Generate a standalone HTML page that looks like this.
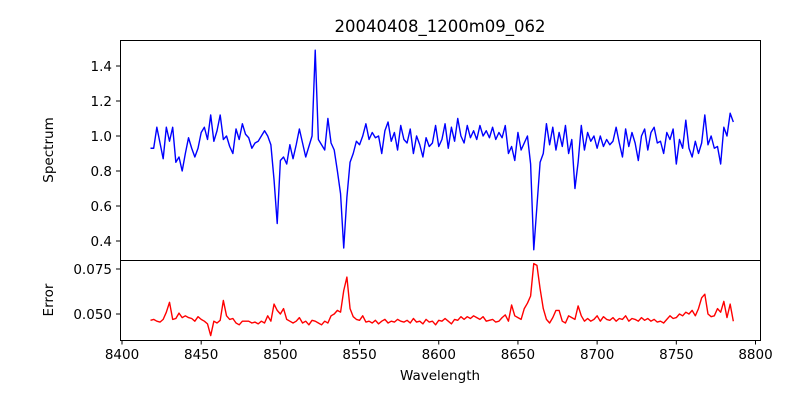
<!DOCTYPE html>
<html><head><meta charset="utf-8"><style>
html,body{margin:0;padding:0;background:#fff;}
svg{display:block;font-family:"DejaVu Sans","Liberation Sans",sans-serif;}
</style></head><body>
<svg id="chart" width="800" height="400" viewBox="0 0 800 400">
<rect width="800" height="400" fill="#fff"/>
<text x="440" y="32" font-size="16.5" text-anchor="middle">20040408_1200m09_062</text>
<text transform="translate(53,150) rotate(-90)" font-size="13.5" text-anchor="middle">Spectrum</text>
<text transform="translate(53,300) rotate(-90)" font-size="13.5" text-anchor="middle">Error</text>
<text x="440" y="380" font-size="13.5" text-anchor="middle">Wavelength</text>
<g id="g"></g>
</svg>
<script>
const wlStart = 8418;
const wlStep = 2;
const spectrum = [0.93,0.93,1.05,0.96,0.87,1.05,0.97,1.05,0.85,0.88,0.80,0.90,
0.99,0.93,0.88,0.93,1.02,1.05,0.98,1.12,0.97,1.03,1.12,0.98,1.00,0.94,0.90,1.04,0.98,1.07,1.01,0.99,0.93,0.96,0.97,1.00,1.03,1.00,0.95,
0.75,0.50,0.86,0.88,0.84,0.95,0.87,0.95,1.04,0.96,0.88,0.94,1.00,1.49,0.98,0.95,0.92,1.10,0.96,0.92,0.80,0.67,0.36,0.65,0.85,0.90,0.97,0.95,1.00,
1.07,0.98,1.02,0.99,1.00,0.90,1.03,1.08,0.97,1.02,0.92,1.06,0.98,0.96,1.04,0.90,1.00,0.95,0.88,0.99,0.94,0.96,1.06,0.94,0.98,1.07,0.93,1.05,0.97,1.10,1.00,0.96,1.06,0.99,1.03,0.98,1.06,1.00,1.03,0.99,1.05,0.98,1.02,0.99,1.06,0.90,0.94,0.86,1.02,0.92,0.96,1.00,0.84,0.35,0.60,0.85,0.90,1.07,0.95,1.05,0.92,1.02,0.94,1.06,0.90,0.98,0.70,0.85,1.06,0.92,1.02,0.97,1.00,0.93,1.00,0.94,0.98,0.95,0.97,1.05,0.96,0.88,1.04,0.94,1.02,0.96,0.86,1.00,1.04,0.92,1.02,1.05,0.96,0.97,0.90,1.02,0.98,1.04,0.84,0.98,0.93,1.09,0.93,0.88,0.97,0.90,0.96,1.12,0.95,1.00,0.93,0.94,0.84,1.05,1.00,1.13,1.08];
const errors = [.0465,.047,.046,.0455,.047,.051,.0565,.047,.0475,.0505,.048,.049,.048,.0475,.046,.0485,.047,.046,.0445,.038,.046,.045,.0465,.0575,.049,.047,.0475,.045,.044,.046,.046,.046,.045,.0455,.0445,.046,
.045,.049,.046,.0555,.052,.050,.053,.047,.046,.045,.046,.048,.045,.046,.044,.0465,.046,.045,.044,.046,.045,.049,.050,.052,.051,.063,.0705,.053,.0485,.047,.0465,.049,.0455,.046,.045,.0465,.0445,.046,.047,.045,.046,.0455,.047,.046,.0455,.0465,.045,.0475,.0455,.046,.0445,.047,.0455,.046,.044,.0465,.046,.0475,.046,.0445,.047,.0465,.0485,.047,.0485,.0475,.049,.048,.047,.0485,.046,.0465,.047,.0455,.046,.048,.0495,.046,
.055,.049,.048,.047,.053,.056,.060,.078,.077,.064,.053,.047,.045,.048,.052,.052,.046,.045,.049,.048,.047,.0545,.049,.046,.0475,.046,.047,.049,.046,.0485,.047,.0465,.048,.046,.0475,.047,.049,.046,.0475,.047,.046,.048,.0465,.0475,.046,.047,.0455,.046,.045,.047,.049,.0475,.048,.050,.049,.051,.050,.052,.049,.053,.059,.061,.050,.0485,.049,.053,.051,.057,.048,.0555,.046];
const xTicks = [8400,8450,8500,8550,8600,8650,8700,8750,8800];
const specTicks = [0.4,0.6,0.8,1.0,1.2,1.4];
const errTicks = [0.050,0.075];

const NS="http://www.w3.org/2000/svg";
const g=document.getElementById('g');
const X=w=>122+(w-8400)*(633.5/400);
const YS=v=>136-(v-1)*175;
const YE=v=>314-(v-0.05)*1800;
function mk(t,a){const e=document.createElementNS(NS,t);for(const k in a)e.setAttribute(k,a[k]);g.appendChild(e);return e;}

// series
let d='';
spectrum.forEach((v,i)=>{d+=(i?'L':'M')+X(wlStart+i*wlStep).toFixed(2)+' '+YS(v).toFixed(2);});
const sp=mk('path',{d:d,fill:'none',stroke:'#0000ff','stroke-width':1.4,'stroke-linejoin':'round'});


d='';
errors.forEach((v,i)=>{d+=(i?'L':'M')+X(wlStart+i*wlStep).toFixed(2)+' '+YE(v).toFixed(2);});
const er=mk('path',{d:d,fill:'none',stroke:'#ff0000','stroke-width':1.4,'stroke-linejoin':'round'});



// frames
const f1=mk('rect',{x:120.5,y:40.5,width:640,height:220,fill:'none',stroke:'#000','stroke-width':1});


const f2=mk('rect',{x:120.5,y:260.5,width:640,height:80,fill:'none',stroke:'#000','stroke-width':1});



// ticks
xTicks.forEach(t=>{
  const x=X(t);
  const l=mk('line',{x1:x,x2:x,y1:340.5,y2:344.5,stroke:'#000'});
  
  
  const tx=mk('text',{x:x,y:359,'font-size':13.5,'text-anchor':'middle'});
  tx.textContent=t;
  
  
});
specTicks.forEach(t=>{
  const y=YS(t);
  const l=mk('line',{x1:116,x2:120.5,y1:y,y2:y,stroke:'#000'});
  
  
  const tx=mk('text',{x:112,y:y+5,'font-size':13.5,'text-anchor':'end'});
  tx.textContent=t.toFixed(1);
  
  
});
errTicks.forEach(t=>{
  const y=YE(t);
  const l=mk('line',{x1:116,x2:120.5,y1:y,y2:y,stroke:'#000'});
  
  
  const tx=mk('text',{x:112,y:y+5,'font-size':13.5,'text-anchor':'end'});
  tx.textContent=t.toFixed(3);
  
  
});
</script>
</body></html>
